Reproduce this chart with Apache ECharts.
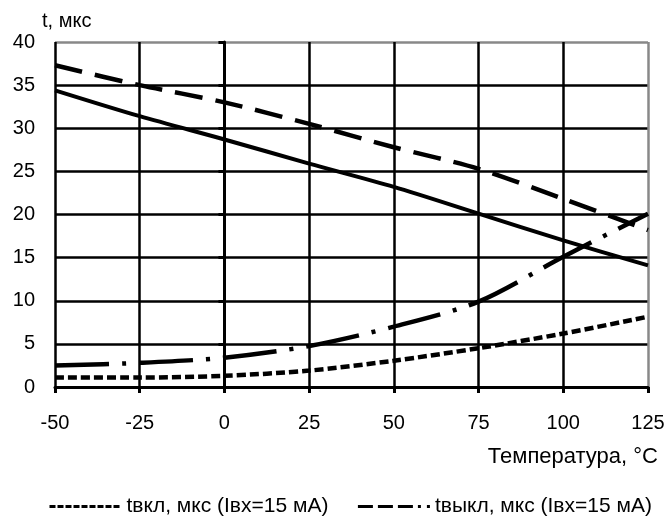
<!DOCTYPE html>
<html>
<head>
<meta charset="utf-8">
<script src="https://cdn.jsdelivr.net/npm/echarts@6/dist/echarts.min.js"></script>
<style>
  html, body { margin: 0; padding: 0; background: #fff; }
  #chart { width: 669px; height: 516px; }
</style>
</head>
<body>
<div id="chart"></div>
<script>
// температура, °C
const temps = [-50, -25, 0, 25, 50, 75, 100, 125]
// t, мкс
const tOnSolid = [34.4, 31.4, 28.7, 25.9, 23.2, 20.1, 17.0, 14.1]
const tOffDashed = [37.3, 35.0, 33.0, 30.5, 27.8, 25.3, 21.8, 18.2]
const tOff15 = [2.5, 2.8, 3.4, 4.75, 7.0, 9.9, 15.1, 20.1]
const tOn15 = [1.1, 1.1, 1.3, 1.9, 3.05, 4.5, 6.2, 8.15]

const FONT = 'Liberation Sans'
const pairs = arr => temps.map((x, i) => [x, arr[i]])

const chart = echarts.init(document.getElementById('chart'))

const line = (name, data, type, width) => ({
  name,
  type: 'line',
  data: pairs(data),
  smooth: 0.3,
  symbol: 'none',
  itemStyle: { color: '#000' },
  lineStyle: { color: '#000', width, type, cap: 'butt' },
  z: 5,
})

chart.setOption({
  animation: false,
  textStyle: { fontFamily: FONT },
  title: [
    { text: 't, мкс', left: 42, top: 11, padding: 0,
      textStyle: { fontFamily: FONT, fontSize: 20, fontWeight: 'normal', color: '#000' } },
    { text: 'Температура, °C', right: 11, top: 446, padding: 0,
      textStyle: { fontFamily: FONT, fontSize: 22, fontWeight: 'normal', color: '#000' } },
  ],
  grid: { left: 55, right: 21, top: 42, bottom: 129, show: false },
  legend: {
    data: [
      { name: 'tвкл, мкс (Iвх=15 мА)', lineStyle: { type: [6, 2], width: 3 } },
      { name: 'tвыкл, мкс (Iвх=15 мА)', lineStyle: { type: [15, 5, 15, 5, 15, 5, 3, 6], width: 3 } },
    ],
    top: 491,
    left: 43,
    itemWidth: 72,
    itemHeight: 12,
    itemGap: 28,
    itemStyle: { opacity: 0 },
    textStyle: { fontFamily: FONT, fontSize: 21, color: '#000' },
  },
  xAxis: {
    type: 'value',
    min: -50,
    max: 125,
    interval: 25,
    axisLine: { show: true, onZero: false, lineStyle: { color: '#000', width: 3 } },
    axisTick: { show: true, length: 6, lineStyle: { color: '#000', width: 3 } },
    axisLabel: { fontFamily: FONT, fontSize: 20, color: '#000', margin: 26 },
    splitLine: {
      show: true,
      lineStyle: { color: ['#000', '#000', '#000', '#000', '#000', '#000', '#000', '#888'], width: 2.5 },
    },
  },
  yAxis: {
    type: 'value',
    min: 0,
    max: 40,
    interval: 5,
    axisLine: { show: true, lineStyle: { color: '#000', width: 3 } },
    axisTick: { show: true, length: 6, lineStyle: { color: '#000', width: 3 } },
    axisLabel: { fontFamily: FONT, fontSize: 20, color: '#000', margin: 20 },
    splitLine: {
      show: true,
      lineStyle: { color: ['#000', '#000', '#000', '#000', '#000', '#000', '#000', '#000', '#888'], width: 2.5 },
    },
  },
  series: [
    line('tвкл', tOnSolid, 'solid', 4),
    line('tвыкл', tOffDashed, [28, 13], 4.5),
    line('tвыкл, мкс (Iвх=15 мА)', tOff15, [54, 13, 4, 13], 4.5),
    line('tвкл, мкс (Iвх=15 мА)', tOn15, [9, 4], 4.5),
  ],
})
</script>
</body>
</html>
